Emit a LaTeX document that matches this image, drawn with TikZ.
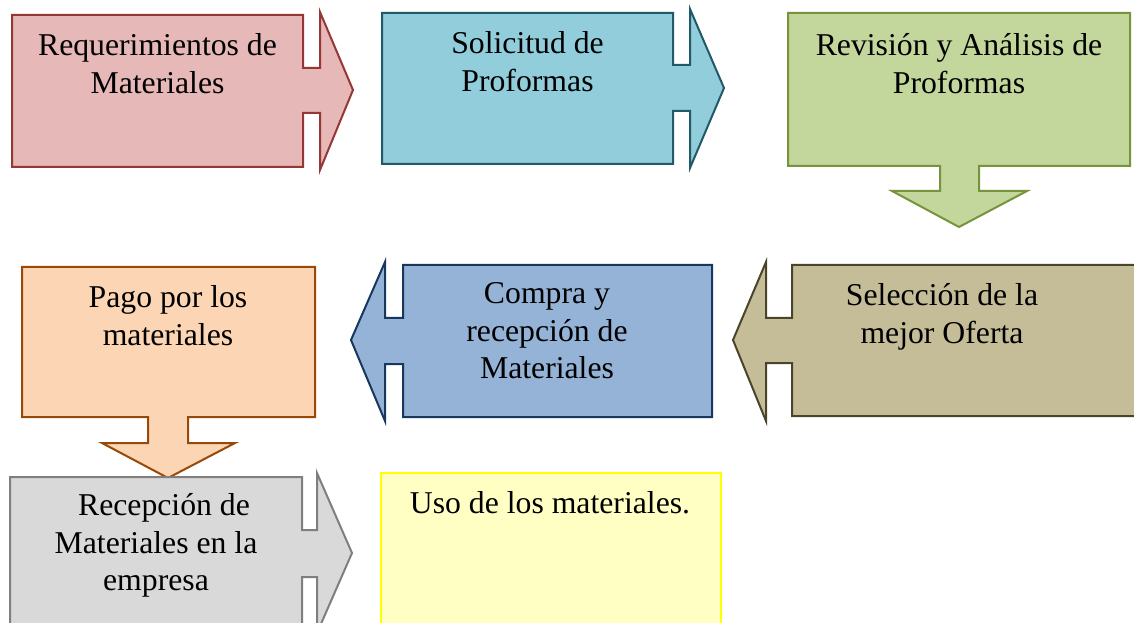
\documentclass[tikz,border=0pt]{standalone}
\usepackage{fontspec}
\setmainfont{Liberation Serif}
\definecolor{f1}{HTML}{E6B8B7}\definecolor{d1}{HTML}{953735}
\definecolor{f2}{HTML}{92CDDC}\definecolor{d2}{HTML}{215968}
\definecolor{f3}{HTML}{C3D69B}\definecolor{d3}{HTML}{77933C}
\definecolor{f4}{HTML}{FCD5B5}\definecolor{d4}{HTML}{984807}
\definecolor{f5}{HTML}{95B3D7}\definecolor{d5}{HTML}{17375E}
\definecolor{f6}{HTML}{C4BD97}\definecolor{d6}{HTML}{4A452A}
\definecolor{f7}{HTML}{D9D9D9}\definecolor{d7}{HTML}{7F7F7F}
\definecolor{f8}{HTML}{FFFFC4}\definecolor{d8}{HTML}{FFFF00}
\tikzset{
  shapebox/.style={line width=1.5pt, line join=miter},
  label/.style={anchor=north, inner sep=0pt, align=center, text=black,
    font=\fontsize{23.8}{28.3}\selectfont}
}
\begin{document}
\begin{tikzpicture}[x=0.75pt,y=-0.75pt]
\useasboundingbox (0,0) rectangle (1134,623);
\clip (0,0) rectangle (1134,623);
% shapes
\draw[shapebox,fill=f1,draw=d1] (12,15) -- (303,15) -- (303,68) -- (320,68) -- (320,12) -- (353,90) -- (320,170) -- (320,113) -- (303,113) -- (303,167) -- (12,167) -- cycle;
\draw[shapebox,fill=f2,draw=d2] (382,13) -- (673,13) -- (673,65) -- (690,65) -- (690,9) -- (724,88) -- (690,168) -- (690,111) -- (673,111) -- (673,164) -- (382,164) -- cycle;
\draw[shapebox,fill=f3,draw=d3] (788,13) -- (1130,13) -- (1130,166) -- (979,166) -- (979,191) -- (1027,191) -- (959,227) -- (892,191) -- (940,191) -- (940,166) -- (788,166) -- cycle;
\draw[shapebox,fill=f4,draw=d4] (22,267) -- (315,267) -- (315,417) -- (188,417) -- (188,443) -- (235,443) -- (168,478) -- (102,443) -- (148,443) -- (148,417) -- (22,417) -- cycle;
\draw[shapebox,fill=f5,draw=d5] (403,265) -- (712,265) -- (712,417) -- (403,417) -- (403,364) -- (385,364) -- (385,421) -- (351,340) -- (385,262) -- (385,318) -- (403,318) -- cycle;
\draw[shapebox,fill=f6,draw=d6] (792,265) -- (1140,265) -- (1140,416) -- (792,416) -- (792,363) -- (766,363) -- (766,421) -- (733,340) -- (766,262) -- (766,318) -- (792,318) -- cycle;
\draw[shapebox,fill=f7,draw=d7] (10,477) -- (302,477) -- (302,530) -- (317,530) -- (317,473) -- (352,553) -- (317,633) -- (317,577) -- (302,577) -- (302,640) -- (10,640) -- cycle;
\draw[shapebox,fill=f8,draw=d8] (381,473) -- (721,473) -- (721,640) -- (381,640) -- cycle;
% texts (north = first baseline - strut height)
\node[label] (t1) at (157.5,28.6) {\strut Requerimientos de\\Materiales};
\node[label] (t2) at (527.5,26.6) {\strut Solicitud de\\Proformas};
\node[label] (t3) at (959,28.6) {\strut Revisión y Análisis de\\Proformas};
\node[label] (t4) at (168,280.6) {\strut Pago por los\\materiales};
\node[label] (t5) at (547,276.6) {\strut Compra y\\recepción de\\Materiales};
\node[label] (t6) at (942,278.6) {\strut Selección de la\\mejor Oferta};
\node[label] (t7) at (156,488.6) {\strut\hspace*{12pt}Recepción de\\Materiales en la\\empresa};
\node[label] (t8) at (550,486.6) {\strut Uso de los materiales.};
\end{tikzpicture}
\end{document}
